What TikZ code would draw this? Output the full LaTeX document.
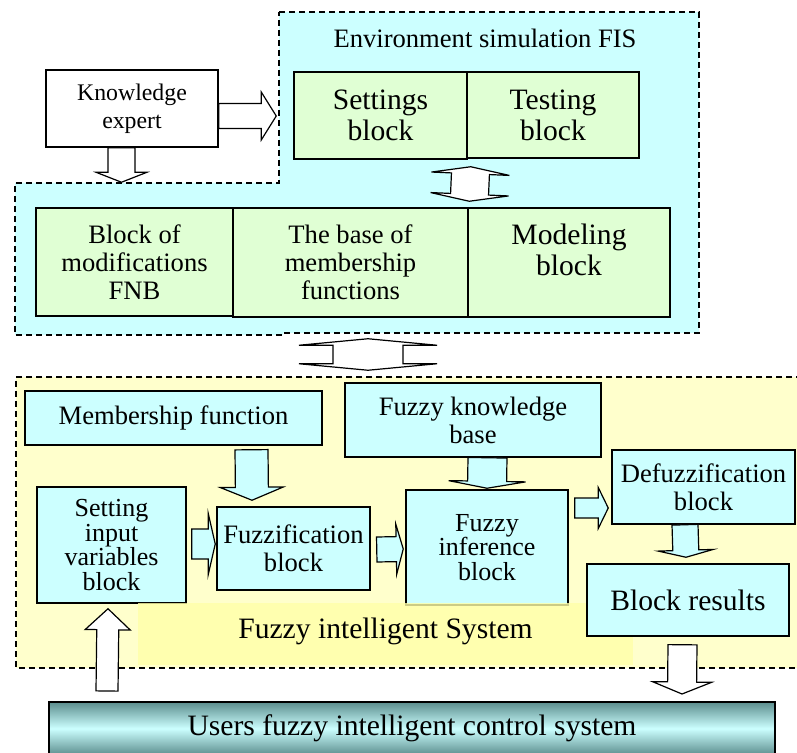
\documentclass[tikz,border=0pt]{standalone}
\usepackage{fontspec}
\setmainfont{Liberation Serif}
\usetikzlibrary{calc}

\definecolor{cyanfill}{HTML}{CCFFFF}
\definecolor{greenfill}{HTML}{E0FFD4}
\definecolor{fisfill}{HTML}{FFFFCC}
\definecolor{labfill}{HTML}{FFFFA8}
\definecolor{tealedge}{HTML}{5C8E8E}

\newcommand{\fssmall}{\fontsize{11.9}{14}\selectfont}
\newcommand{\fsmid}{\fontsize{13.3}{14}\selectfont}
\newcommand{\fsbig}{\fontsize{14.8}{15.5}\selectfont}
\newcommand{\fstight}{\fontsize{13}{12.3}\selectfont\lineskiplimit=-20pt}

% block arrow: [style]{start}{tip}{shaft half width}{head half width}{head length}
\newcommand{\fatarrow}[6][]{%
  \path (#2) coordinate (fa-s) (#3) coordinate (fa-t) ($(#3)!#6!(#2)$) coordinate (fa-h);
  \draw[#1] ($(fa-s)!#4!90:(fa-t)$) -- ($(fa-h)!#4!90:(fa-t)$) -- ($(fa-h)!#5!90:(fa-t)$) -- (fa-t)
    -- ($(fa-h)!#5!-90:(fa-t)$) -- ($(fa-h)!#4!-90:(fa-t)$) -- ($(fa-s)!#4!-90:(fa-t)$) -- cycle;}
% double block arrow: [style]{tip a}{tip b}{shaft half width}{head half width}{head length}
\newcommand{\fatdarrow}[6][]{%
  \path (#2) coordinate (da-a) (#3) coordinate (da-b)
    ($(#2)!#6!(#3)$) coordinate (da-ha) ($(#3)!#6!(#2)$) coordinate (da-hb);
  \draw[#1] (da-a) -- ($(da-ha)!#5!90:(da-b)$) -- ($(da-ha)!#4!90:(da-b)$) -- ($(da-hb)!#4!-90:(da-a)$)
    -- ($(da-hb)!#5!-90:(da-a)$) -- (da-b) -- ($(da-hb)!#5!90:(da-a)$) -- ($(da-hb)!#4!90:(da-a)$)
    -- ($(da-ha)!#4!-90:(da-b)$) -- ($(da-ha)!#5!-90:(da-b)$) -- cycle;}

\begin{document}
\begin{tikzpicture}[
  x=0.5pt,y=-0.5pt,
  blk/.style={draw, line width=0.75pt, align=center, inner sep=0pt, font=\fsmid},
  gblk/.style={blk, fill=greenfill},
  cblk/.style={blk, fill=cyanfill},
  zone/.style={draw, line width=0.8pt, dash pattern=on 3pt off 2pt},
  hollow/.style={draw, line width=0.6pt, fill=white, line join=miter},
  filled/.style={hollow, fill=cyanfill}
]
\useasboundingbox (0,0) rectangle (797,753);

% dashed zones
\draw[zone, fill=cyanfill] (279,12) -- (699,12) -- (699,333) -- (283,333) -- (283,335) -- (15,335) -- (15,183) -- (279,183) -- cycle;
\draw[zone, fill=fisfill] (812,377) -- (16,377) -- (16,668) -- (812,668);

% simulation part
\node[blk, fill=white, font=\fssmall, minimum width=86pt, minimum height=38.5pt] (ke) at (132,108.5) {Knowledge\\expert};
\node[font=\fsmid] (envlab) at (485,38) {Environment simulation FIS};
\node[gblk, font=\fsbig, minimum width=86.5pt, minimum height=43.5pt] (set) at (380.5,115.5) {Settings\\block};
\node[gblk, font=\fsbig, minimum width=86pt, minimum height=43pt] (test) at (553,115) {Testing\\block};
\node[gblk, minimum width=98.5pt, minimum height=54pt] (mod) at (134.5,262) {Block of\\modifications\\FNB};
\node[gblk, minimum width=117.5pt, minimum height=54.5pt] (mfb) at (350.5,262.5) {The base of\\membership\\functions};
\node[gblk, font=\fsbig, text depth=13pt, minimum width=101pt, minimum height=54.5pt] (model) at (569,262.5) {Modeling\\block};

% fuzzy system part
\node[cblk, minimum width=148.5pt, minimum height=27pt] (mf) at (173.5,418) {Membership function};
\node[cblk, minimum width=128pt, minimum height=37pt] (fkb) at (473,420) {Fuzzy knowledge\\base};
\node[cblk, font=\fstight, minimum width=74.5pt, minimum height=58pt] (siv) at (111.5,545) {Setting\\input\\variables\\block};
\node[cblk, minimum width=76.5pt, minimum height=41.5pt] (fz) at (293.5,548.5) {Fuzzification\\block};
\node[cblk, font=\fstight, minimum width=81pt, minimum height=57.5pt] (fi) at (487,547.5) {Fuzzy\\inference\\block};
\node[cblk, minimum width=91.5pt, minimum height=37pt] (df) at (703.5,487) {Defuzzification\\block};
\node[fill=labfill, fill opacity=0.8, text opacity=1, font=\fsbig, text depth=6pt, minimum width=247.5pt, minimum height=31pt] (fislab) at (385.5,634) {Fuzzy intelligent System};
\node[cblk, font=\fsbig, minimum width=101pt, minimum height=36pt] (br) at (688,600) {Block results};

\node[blk, line width=1pt, font=\fsbig, top color=tealedge, bottom color=tealedge, middle color=cyanfill,
  minimum width=363pt, minimum height=26.5pt] (users) at (412,728.5) {Users fuzzy intelligent control system};

% arrow ends
\coordinate (a1s) at ($(ke.east)+(0,7.5)$);
\coordinate (a1t) at ($(set.west)+(-17,0.5)$);
\coordinate (a2s) at ($(ke.south)+(-10.5,0)$);
\coordinate (a2t) at ($(mod.north)+(-13,-25)$);
\coordinate (a3a) at ($(set.south east)+(3,7)$);
\coordinate (a3b) at ($(model.north west)+(2,-6)$);
\coordinate (a4a) at ($(mfb.south)+(17.5,21)$);
\coordinate (a4b) at ($(fkb.north)+(-105,-12)$);
\coordinate (a5s) at ($(mf.south)+(78,4)$);
\coordinate (a5t) at ($(fz.north)+(-41.5,-6)$);
\coordinate (a6s) at ($(siv.east)+(5,-1)$);
\coordinate (a6t) at ($(fz.west)+(-1,-4.5)$);
\coordinate (a7s) at ($(fz.east)+(6,1)$);
\coordinate (a7t) at ($(fi.west)+(-2,1.5)$);
\coordinate (a8s) at ($(fkb.south)+(14.5,0)$);
\coordinate (a8t) at ($(fi.north)+(0,-1)$);
\coordinate (a9s) at ($(fi.east)+(6,-39.5)$);
\coordinate (a9t) at ($(df.west)+(-3,21)$);
\coordinate (a10s) at ($(df.south)+(-18.5,0)$);
\coordinate (a10t) at ($(br.north)+(-2,-6)$);
\coordinate (a11s) at ($(br.south)+(-5.5,8)$);
\coordinate (a11t) at ($(users.north)+(270,-7)$);
\coordinate (a12s) at ($(users.north west)+(59,-10)$);
\coordinate (a12t) at ($(siv.south)+(-3.5,5)$);

% block arrows
\fatarrow[hollow]{a1s}{a1t}{6.25pt}{12pt}{7.5pt}
\fatarrow[hollow]{a2s}{a2t}{6.75pt}{12.75pt}{5pt}
\fatdarrow[hollow]{a3a}{a3b}{9.5pt}{19.5pt}{3.5pt}
\fatdarrow[hollow]{a4a}{a4b}{17.5pt}{34.5pt}{3.25pt}
\fatarrow[filled]{a5s}{a5t}{8.25pt}{15.75pt}{6.5pt}
\fatarrow[filled]{a6s}{a6t}{7.5pt}{15.25pt}{3.5pt}
\fatarrow[filled]{a7s}{a7t}{6.25pt}{12.5pt}{3.5pt}
\fatarrow[filled]{a8s}{a8t}{9.75pt}{19.25pt}{3.5pt}
\fatarrow[filled]{a9s}{a9t}{5pt}{10.25pt}{5pt}
\fatarrow[filled]{a10s}{a10t}{6.5pt}{13.75pt}{3.5pt}
\fatarrow[hollow]{a11s}{a11t}{7.25pt}{14.75pt}{6pt}
\fatarrow[hollow]{a12s}{a12t}{5.5pt}{11.25pt}{10.5pt}
\end{tikzpicture}
\end{document}
